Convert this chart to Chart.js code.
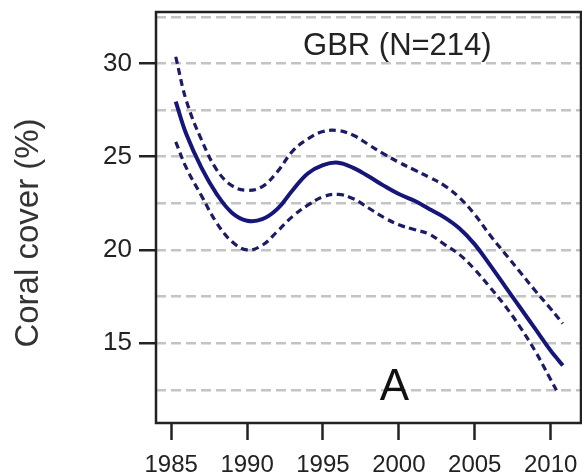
<!DOCTYPE html>
<html>
<head>
<meta charset="utf-8">
<script src="https://cdn.jsdelivr.net/npm/chart.js@4/dist/chart.umd.min.js"></script>
<style>
  html, body { margin: 0; padding: 0; background: #fff; }
  #wrap { width: 582px; height: 476px; position: relative; }
</style>
</head>
<body>
<div id="wrap"><canvas id="coral"></canvas></div>
<script>
/* ---------- Data ---------- */
const years = [1985.3, 1986, 1987, 1988, 1989, 1990, 1991, 1992, 1993, 1994, 1995, 1996, 1997, 1998,
               1999, 2000, 2001, 2002, 2003, 2004, 2005, 2006, 2007, 2008, 2009, 2010, 2010.5, 2010.8];
const fitCover = [27.95, 26.2, 24.4, 23.0, 22.0, 21.57, 21.65, 22.2, 23.2, 24.1, 24.55, 24.68, 24.4, 23.95,
                  23.45, 23.0, 22.65, 22.2, 21.75, 21.15, 20.3, 19.2, 18.05, 16.9, 15.75, 14.6, 14.1, 13.8];
const upperCI  = [30.36, 28.0, 25.9, 24.3, 23.45, 23.2, 23.4, 24.2, 25.3, 25.95, 26.35, 26.4, 26.15, 25.65,
                  25.15, 24.7, 24.3, 23.9, 23.45, 22.8, 21.9, 20.8, 19.8, 18.8, 17.8, 16.85, 16.35, 16.05];
const lowerCI  = [25.8, 24.4, 22.9, 21.45, 20.45, 20.0, 20.25, 21.0, 21.8, 22.4, 22.85, 22.98, 22.75, 22.25,
                  21.75, 21.35, 21.1, 20.85, 20.3, 19.75, 18.95, 18.0, 17.0, 15.85, 14.55, 13.05, 12.3, null];

const xTicks = [1985, 1990, 1995, 2000, 2005, 2010];
const yGrid  = [12.5, 15, 17.5, 20, 22.5, 25, 27.5, 30, 32.5];
const yLabelled = [15, 20, 25, 30];

const panelTitle = 'GBR (N=214)';
const panelLetter = 'A';
const yTitle = 'Coral cover (%)';

/* ---------- Helpers ---------- */
const pts = arr => years.map((yr, i) => ({ x: yr, y: arr[i] }));
const NAVY = '#16167a';
const INK  = '#222';
const FONT = '"Liberation Sans", Arial, sans-serif';

/* frame + annotation text */
const extras = {
  id: 'extras',
  afterDraw(chart) {
    const { ctx, chartArea: a, scales: { x, y } } = chart;
    ctx.save();
    ctx.strokeStyle = INK;
    ctx.lineWidth = 2.5;
    ctx.strokeRect(a.left, a.top, a.right - a.left, a.bottom - a.top);

    ctx.fillStyle = INK;
    ctx.textAlign = 'center';
    ctx.textBaseline = 'middle';
    ctx.font = '31px ' + FONT;
    ctx.fillText(panelTitle, x.getPixelForValue(1999.9), y.getPixelForValue(30.9));

    ctx.fillStyle = '#111';
    ctx.font = '44px ' + FONT;
    ctx.fillText(panelLetter, x.getPixelForValue(1999.7), y.getPixelForValue(12.6));

    ctx.fillStyle = '#333';
    ctx.translate(29, 233);
    ctx.rotate(-Math.PI / 2);
    ctx.font = '33px ' + FONT;
    ctx.fillText(yTitle, 0, 0);
    ctx.restore();
  }
};

/* ---------- Chart ---------- */
window.onload = function () {
  const ctx = document.getElementById('coral').getContext('2d');

  new Chart(ctx, {
    type: 'line',
    data: {
      datasets: [
        { data: pts(fitCover), borderColor: NAVY, borderWidth: 4 },
        { data: pts(upperCI), borderColor: '#1c1c66', borderWidth: 3.2, borderDash: [7, 4.5] },
        { data: pts(lowerCI), borderColor: '#1c1c66', borderWidth: 3.2, borderDash: [7, 4.5] }
      ]
    },
    options: {
      responsive: true,
      maintainAspectRatio: false,
      animation: false,
      events: [],
      layout: { padding: { top: 12, right: 1, left: 0, bottom: 0 } },
      elements: {
        point: { radius: 0 },
        line: { tension: 0.4, fill: false, borderCapStyle: 'butt' }
      },
      plugins: { legend: { display: false }, tooltip: { enabled: false } },
      scales: {
        x: {
          type: 'linear',
          min: 1984, max: 2012,
          afterBuildTicks: s => { s.ticks = xTicks.map(v => ({ value: v })); },
          afterFit: s => { s.height = 53; s.paddingLeft = 0; s.paddingRight = 0; },
          border: { display: false },
          grid: {
            drawOnChartArea: false, drawTicks: true,
            tickLength: 17, tickWidth: 2.5, tickColor: INK
          },
          ticks: {
            padding: 11, color: '#222', maxRotation: 0,
            font: { family: FONT, size: 24 },
            callback: v => String(v)
          }
        },
        y: {
          min: 10.72, max: 32.76,
          afterBuildTicks: s => { s.ticks = yGrid.map(v => ({ value: v })); },
          afterFit: s => { s.width = 156; s.paddingTop = 0; s.paddingBottom = 0; },
          border: { display: false, dash: [10, 5] },
          grid: {
            color: '#c4c4c4', lineWidth: 2.5,
            drawTicks: true, tickLength: 17, tickWidth: 2.5, tickBorderDash: [],
            tickColor: c => (c.tick && yLabelled.includes(c.tick.value)) ? INK : 'rgba(0,0,0,0)'
          },
          ticks: {
            padding: 7, color: '#222',
            font: { family: FONT, size: 26 },
            callback: v => yLabelled.includes(v) ? String(v) : ''
          }
        }
      }
    },
    plugins: [extras]
  });
};
</script>
</body>
</html>
